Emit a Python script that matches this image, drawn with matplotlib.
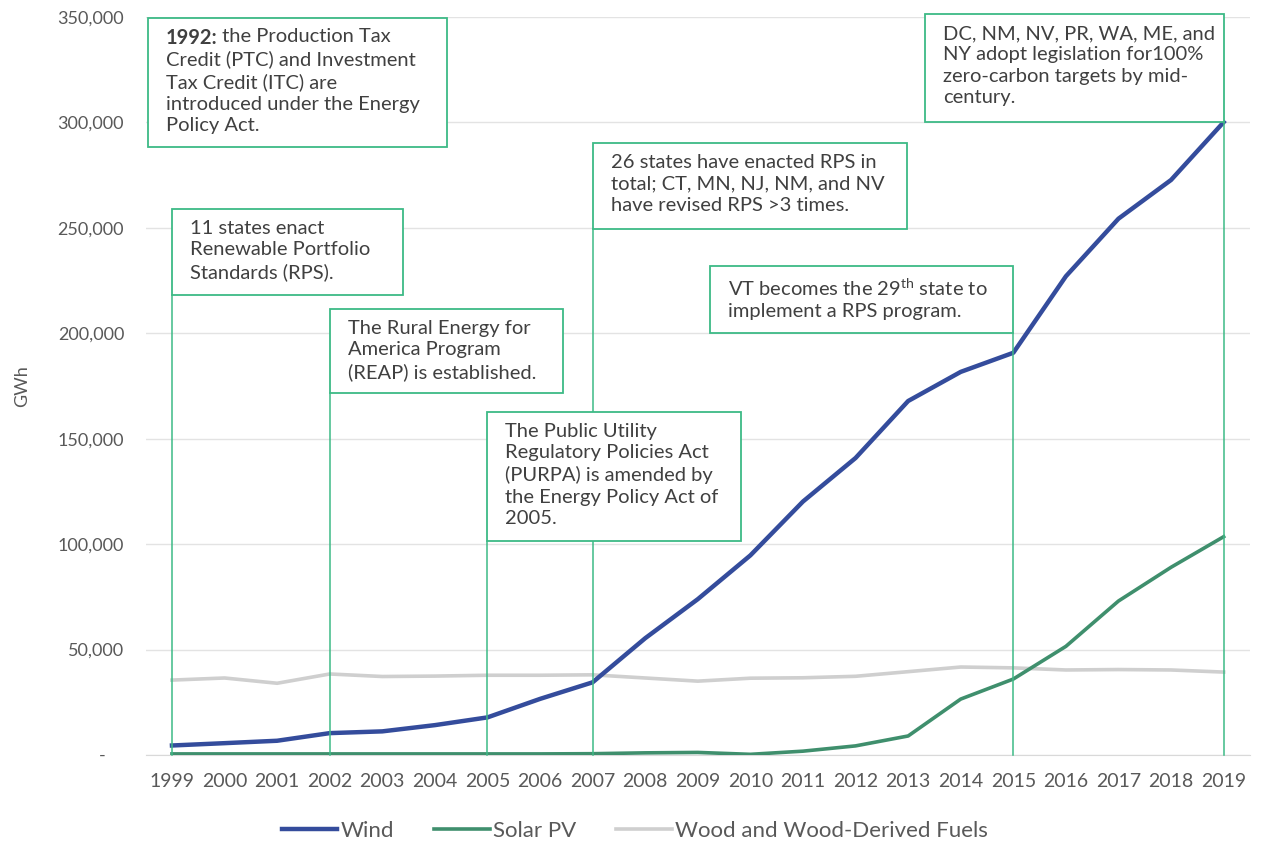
import matplotlib.pyplot as plt
from matplotlib.patches import Rectangle
import matplotlib.ticker as mticker

plt.rcParams['font.family'] = ['Lato', 'DejaVu Sans']
plt.rcParams['mathtext.fontset'] = 'custom'
plt.rcParams['mathtext.rm'] = 'Lato'

# Data (GWh)
years = list(range(1999, 2020))
wind = [4488, 5593, 6737, 10354, 11187, 14144, 17811, 26589, 34450, 55363,
        73886, 94652, 120177, 140822, 167840, 181655, 190719, 226993,
        254303, 272667, 300071]
solar = [500, 500, 500, 500, 500, 500, 500, 500, 600, 1000,
         1200, 300, 1800, 4300, 9000, 26500, 36000, 51500, 73000, 89000, 103500]
wood = [35500, 36500, 34000, 38400, 37200, 37400, 37800, 37800, 38000, 36500,
        35000, 36400, 36600, 37300, 39500, 41700, 41300, 40300, 40500, 40300, 39300]

# annotation boxes: (x0, x1, y_top, y_bottom, text, line_year)
notes = [
    (1998.54, 2004.23, 349700, 288100,
     "Credit (PTC) and Investment\nTax Credit (ITC) are\n"
     "introduced under the Energy\nPolicy Act.", None),
    (1999.0, 2003.39, 258700, 218000,
     "11 states enact\nRenewable Portfolio\nStandards (RPS).", 1999),
    (2002.0, 2006.43, 211400, 171500,
     "The Rural Energy for\nAmerica Program\n(REAP) is established.", 2002),
    (2005.0, 2009.82, 162500, 101400,
     "The Public Utility\nRegulatory Policies Act\n(PURPA) is amended by\n"
     "the Energy Policy Act of\n2005.", 2005),
    (2007.0, 2012.97, 290000, 249300,
     "26 states have enacted RPS in\ntotal; CT, MN, NJ, NM, and NV\nhave revised RPS >3 times.", 2007),
    (2009.23, 2015.0, 231700, 200000,
     "VT becomes the 29$^{\\mathrm{th}}$ state to\nimplement a RPS program.", 2015),
    (2013.32, 2019.0, 351200, 300000,
     "DC, NM, NV, PR, WA, ME, and\nNY adopt legislation for100%\nzero-carbon targets by mid-\ncentury.", 2019),
]

green = '#3dba86'
txt_color = '#404040'
axis_gray = '#595959'
note_size = 14.5
line_h = 22.5 * 473.9  # one text line in data units

fig = plt.figure(figsize=(12.7, 8.44), dpi=100)
ax = fig.add_axes([0.1147, 0.1055, 0.8695, 0.8745])

ax.plot(years, wood, color='#cfcfcf', lw=2.6, label='Wood and Wood-Derived Fuels', zorder=2)
ax.plot(years, solar, color='#3f8f6d', lw=2.6, label='Solar PV', zorder=3)
ax.plot(years, wind, color='#344c9c', lw=3.2, label='Wind', zorder=4)

ax.set_xlim(1998.5, 2019.5)
ax.set_ylim(0, 350000)
ax.set_xticks(years)
ax.set_xticklabels([str(y) for y in years])
ax.set_yticks(range(0, 350001, 50000))
ax.yaxis.set_major_formatter(mticker.FuncFormatter(
    lambda v, p: '-    ' if v == 0 else f'{int(v):,}'))
ax.tick_params(length=0, labelsize=13, colors=axis_gray)
ax.tick_params(axis='x', pad=13, labelsize=14)
ax.tick_params(axis='y', pad=15.5)
ax.grid(axis='y', color='#e3e3e3', lw=1)
ax.set_axisbelow(True)
for s in ['top', 'right', 'left']:
    ax.spines[s].set_visible(False)
ax.spines['bottom'].set_color('#d9d9d9')
ax.set_ylabel('GWh', fontsize=13, color=axis_gray, labelpad=20)

for i, (x0, x1, yt, yb, text, ly) in enumerate(notes):
    if ly is not None:
        ax.plot([ly, ly], [0, yb], color=green, lw=1.1, zorder=5, clip_on=False)
    ax.add_patch(Rectangle((x0, yb), x1 - x0, yt - yb, facecolor='white',
                           edgecolor=green, lw=1.3, zorder=6, clip_on=False))
    tx = x0 + 0.34
    ty = yt - 5000
    if i == 0:
        # first box has a bold year in front of the first line
        t1 = ax.text(tx, ty, '1992:', ha='left', va='top', fontsize=note_size,
                     fontweight='bold', color=txt_color, zorder=7)
        ax.annotate(' the Production Tax', xy=(1, 1), xycoords=t1, ha='left', va='top',
                    fontsize=note_size, color=txt_color, zorder=7)
        ty -= line_h
    ax.text(tx, ty, text, ha='left', va='top', fontsize=note_size,
            color=txt_color, linespacing=1.32, zorder=7, clip_on=False)

handles, labels = ax.get_legend_handles_labels()
order = [2, 1, 0]
fig.legend([handles[i] for i in order], [labels[i] for i in order],
           loc='lower center', bbox_to_anchor=(0.5, -0.02), ncol=3, frameon=False,
           fontsize=16, handlelength=2.5, handletextpad=0.15, columnspacing=1.8,
           labelcolor=axis_gray)

fig.savefig('out.png', dpi=100)
